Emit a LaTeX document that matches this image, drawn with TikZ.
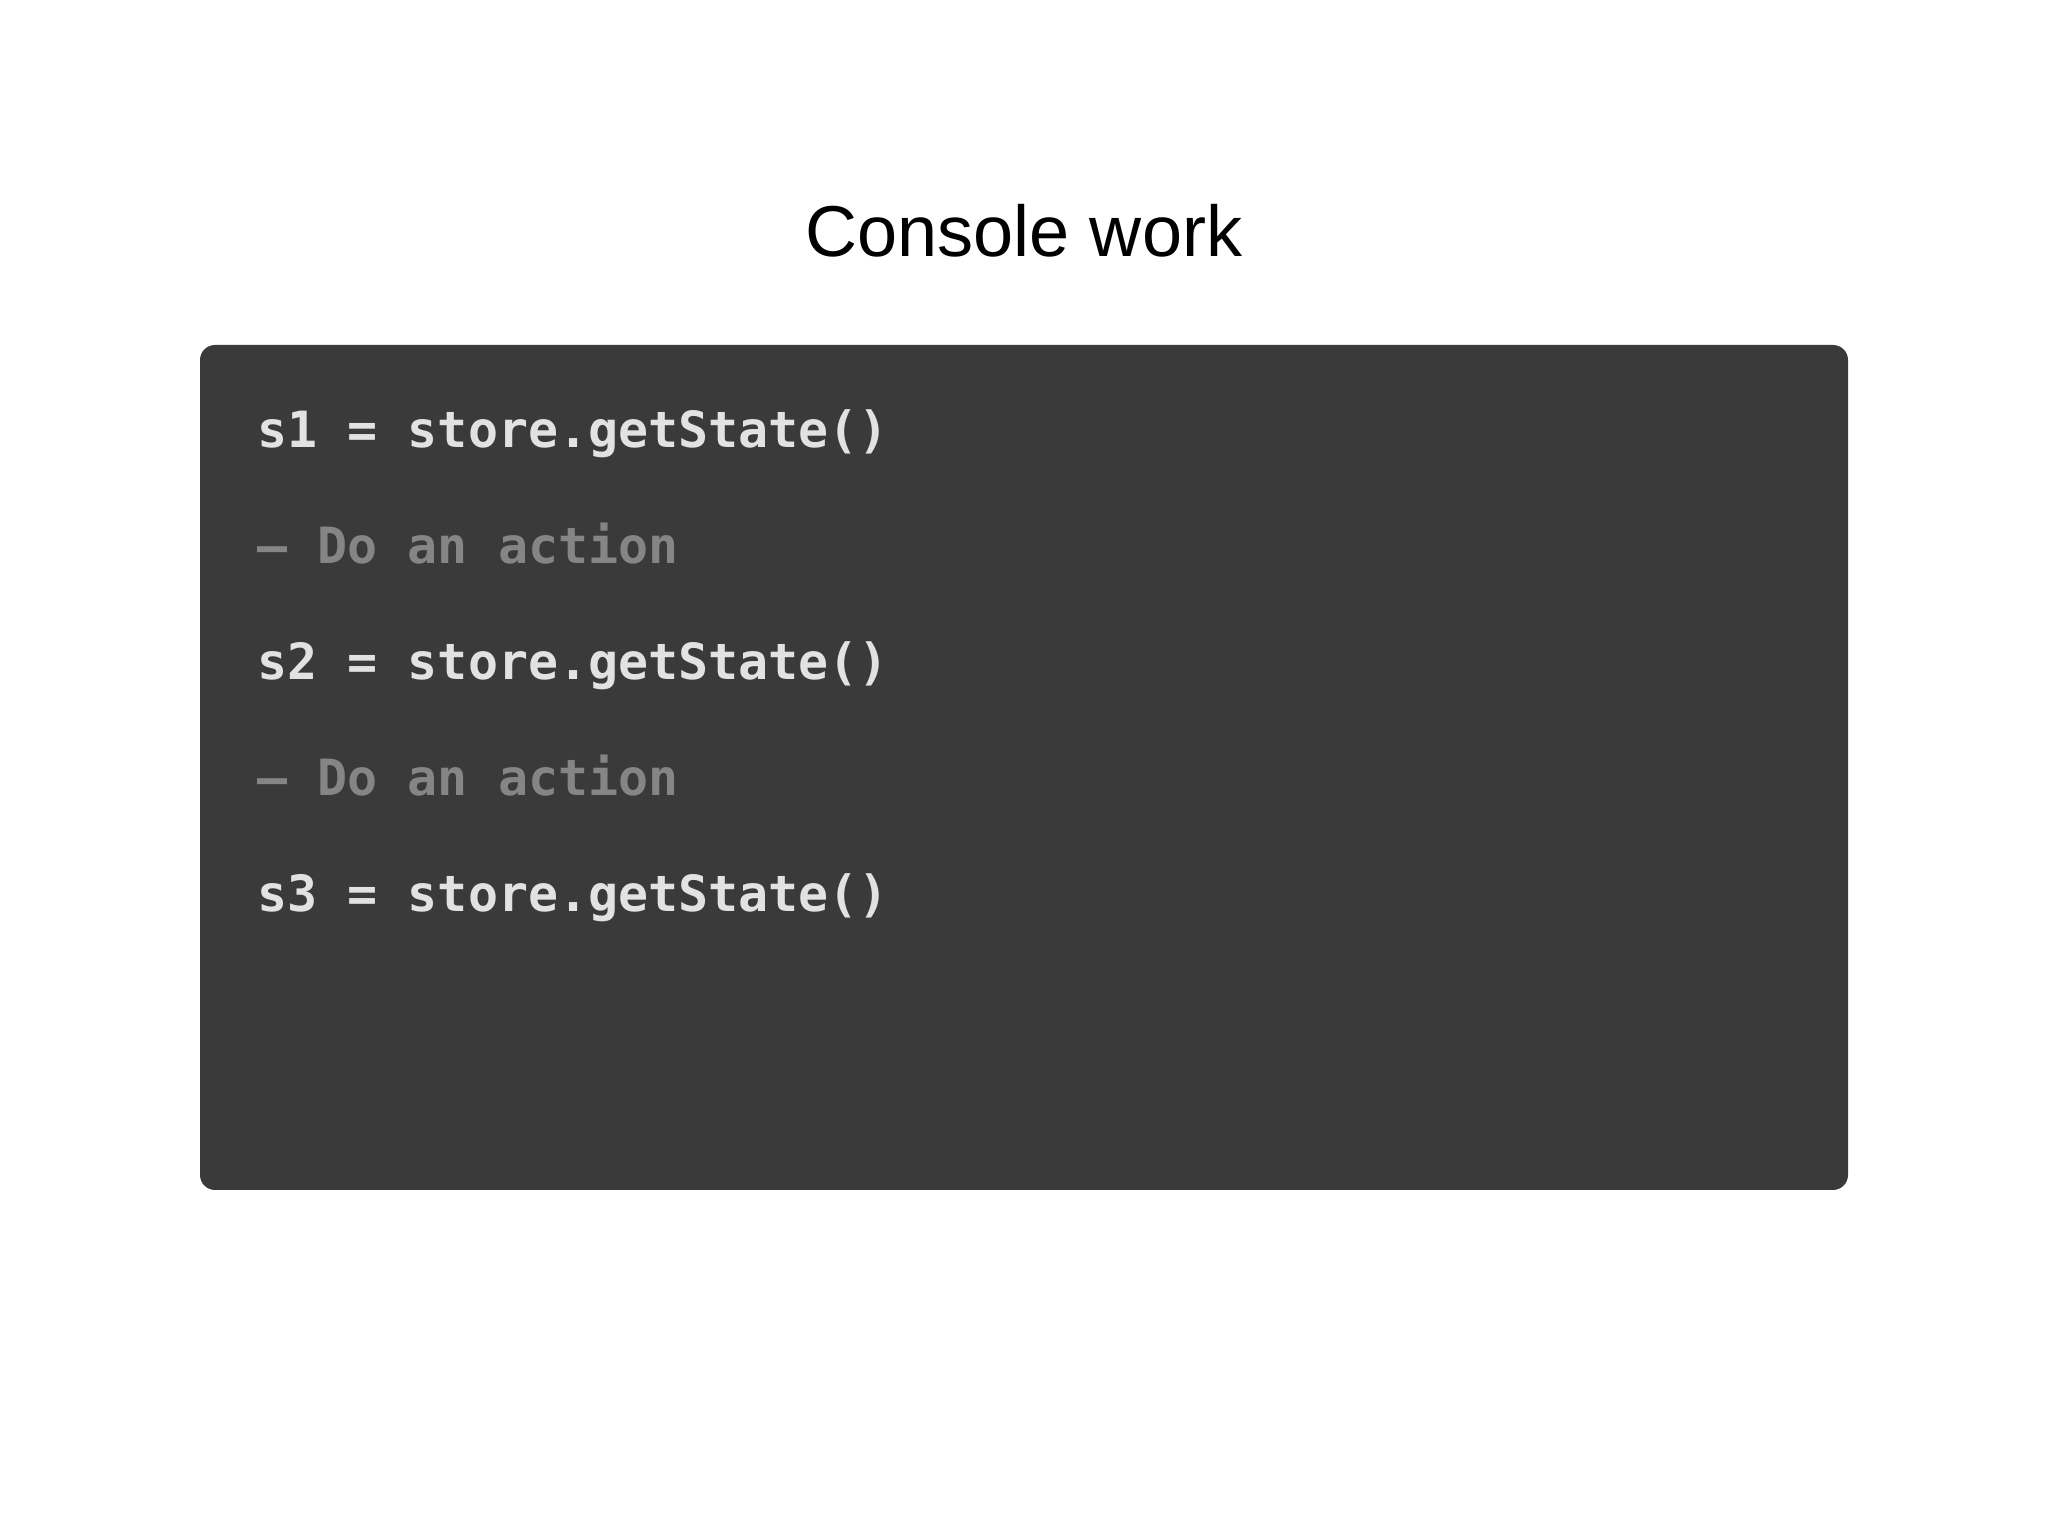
\documentclass[tikz,border=0pt]{standalone}
\usepackage{fontspec}
\setmainfont{Liberation Sans}
\setmonofont{DejaVu Sans Mono}
\usetikzlibrary{positioning}
\definecolor{panel}{HTML}{3A3A3A}
\definecolor{codefg}{HTML}{E2E2E2}
\definecolor{commentfg}{HTML}{858585}

\begin{document}
\begin{tikzpicture}[code/.style={font=\ttfamily\bfseries\fontsize{14.2}{14}\selectfont,text=codefg,inner sep=0pt,anchor=base west},
  comment/.style={code,text=commentfg},
  line gap/.style={below=1.16cm of #1.base west,anchor=base west}]
\useasboundingbox (0,0) rectangle (20.48,15.36);
\node[font=\fontsize{20.5}{24}\selectfont,anchor=base] (title) at (10.24,12.79) {Console work};
\fill[panel,rounded corners=0.15cm] (2.00,3.46) rectangle (18.48,11.91);

\node[code] (s1) at (2.57,10.88) {s1 = store.getState()};
\node[comment,line gap=s1] (a1) {– Do an action};
\node[code,line gap=a1] (s2) {s2 = store.getState()};
\node[comment,line gap=s2] (a2) {– Do an action};
\node[code,line gap=a2] (s3) {s3 = store.getState()};

\end{tikzpicture}
\end{document}
